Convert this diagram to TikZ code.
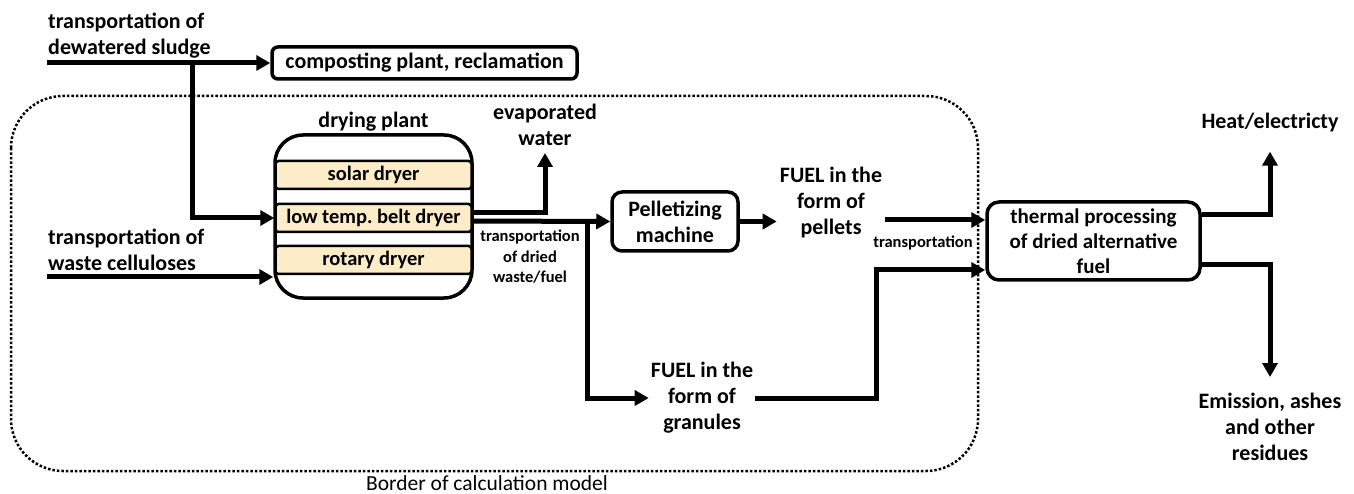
\documentclass[tikz,border=0pt]{standalone}
\usepackage{fontspec}
\setmainfont{Carlito}
\usetikzlibrary{arrows.meta,positioning}
\definecolor{dryerfill}{RGB}{253,236,200}
\frenchspacing
\begin{document}
\begin{tikzpicture}[x=1pt,y=-1pt]
		\tikzstyle{all} = [draw, line width=3.5pt, align=center]
		\tikzstyle{lbl} = [align=center, inner sep=0pt, font=\fontsize{22}{26}\selectfont\bfseries]
		\tikzstyle{small} = [align=center, inner sep=0pt, font=\fontsize{16.5}{20.5}\selectfont\bfseries]
		\tikzstyle{block} = [rectangle, all, lbl, rounded corners=9pt]
		\tikzstyle{dryer} = [rectangle, draw, line width=2.5pt, fill=dryerfill, lbl, font=\fontsize{20.5}{24}\selectfont\bfseries, minimum width=196pt, minimum height=28pt, rounded corners=3pt]
		\tikzstyle{flow} = [line width=5pt, -{Triangle[length=14pt,width=15pt]}]
		\useasboundingbox (0,0) rectangle (1354,494);
		\draw[dotted, line width=2.5pt, rounded corners=52pt] (11,96) rectangle (978,471);
		\node[inner sep=0pt, font=\fontsize{21.5}{24}\selectfont] (border) at (487,483) {Border of calculation model};
		\node[lbl, anchor=west, align=left] (sludge) at (48,36) {transportation of\\dewatered sludge};
		\node[lbl, anchor=west, align=left] (cellu) at (48,250) {transportation of\\waste celluloses};
		\coordinate (sludgein) at (47,63);
		\coordinate (celluin) at (47,277);
		\coordinate (split1) at (192,63);
		\node[block, minimum width=305pt, minimum height=32pt, rounded corners=6pt] (compost) at (424.5,63) {composting plant, reclamation};
		\node[lbl] (plantlbl) at (373.5,122) {drying plant};
		\node[block, minimum width=197pt, minimum height=163pt, rounded corners=28pt] (plant) at (373.5,216.5) {};
		\node[dryer] (solar) at (373.5,175) {solar dryer};
		\node[dryer] (belt) at (373.5,218) {low temp. belt dryer};
		\node[dryer] (rotary) at (373.5,260) {rotary dryer};
		\node[lbl] (evap) at (545,125) {evaporated\\water};
		\node[small] (dried) at (530,257) {transportation\\of dried\\waste/fuel};
		\node[block, minimum width=126pt, minimum height=59pt, rounded corners=10pt] (pellet) at (675,221.5) {Pelletizing\\machine};
		\coordinate (split2) at (587,221);
		\node[lbl] (granules) at (702,398) {FUEL in the\\form of\\granules};
		\node[lbl] (pellets) at (831,203) {FUEL in the\\form of\\pellets};
		\node[small] (transp) at (923,243) {transportation};
		\node[block, minimum width=213pt, minimum height=78pt, rounded corners=12pt, font=\fontsize{21}{25}\selectfont\bfseries] (thermal) at (1093.5,241) {thermal processing\\of dried alternative\\fuel};
		\node[lbl] (heat) at (1270,123) {Heat/electricty};
		\node[lbl] (emis) at (1270,427) {Emission, ashes\\and other\\residues};
		\draw[flow] (sludgein) -- (compost.west);
		\draw[flow] (split1) |- (belt.west);
		\draw[flow] (celluin) -- (celluin -| plant.west);
		\draw[flow] ([yshift=5pt]belt.east) -| ([yshift=-7pt]evap.south);
		\draw[flow] ([yshift=-3pt]belt.east) -- (pellet.west);
		\draw[flow] (split2) |- ([xshift=-2pt]granules.west);
		\draw[flow] (pellet.east) -- ([xshift=-3pt]pellets.west |- pellet.east);
		\draw[flow] ([xshift=3pt]pellets.east |- 0,220) -- (thermal.west |- 0,220);
		\draw[flow] ([xshift=2pt]granules.east) -| (876,270) -- (thermal.west |- 0,270);
		\draw[flow] (thermal.east |- 0,215) -| ([yshift=-19pt]heat.south);
		\draw[flow] (thermal.east |- 0,265) -| ([yshift=16pt]emis.north);
\end{tikzpicture}
\end{document}
